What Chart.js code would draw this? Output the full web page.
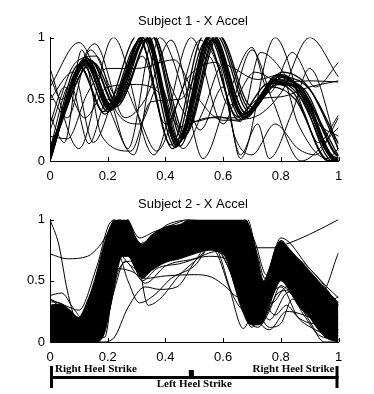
<!DOCTYPE html>
<html>
<head>
<meta charset="utf-8">
<script src="https://cdn.jsdelivr.net/npm/chart.js@4.4.1/dist/chart.umd.min.js"></script>
<style>
  html, body { margin: 0; padding: 0; background: #fff; }
  #wrap { position: relative; width: 374px; height: 394px; }
  canvas { position: absolute; left: 0; }
  #subject1 { top: 0; }
  #subject2 { top: 190px; }
</style>
</head>
<body>
<div id="wrap">
  <canvas id="subject1" width="374" height="190"></canvas>
  <canvas id="subject2" width="374" height="204"></canvas>
</div>
<script>
// normalised gait cycle (x) vs normalised X acceleration (y)

// Subject 1: the main bundle of strides
const subject1Bundle = [
  [[0,0.02],[0.12,0.8],[0.205,0.42],[0.325,1.03],[0.44,0.13],[0.555,1.04],[0.67,0.36],[0.785,0.66],[0.865,0.56],[0.985,0.01],[1,0]],
  [[0,0.05],[0.13,0.83],[0.215,0.44],[0.335,1.02],[0.45,0.16],[0.565,1.03],[0.68,0.38],[0.795,0.68],[0.875,0.55],[0.995,0.02],[1,0.02]],
  [[0,0],[0.115,0.78],[0.2,0.4],[0.32,1.0],[0.435,0.11],[0.55,1.0],[0.665,0.34],[0.775,0.64],[0.86,0.57],[0.98,0],[1,0]],
  [[0,0.08],[0.14,0.82],[0.225,0.45],[0.345,1.05],[0.46,0.18],[0.575,1.02],[0.69,0.4],[0.805,0.7],[0.885,0.52],[1,0.04]],
  [[0,0.03],[0.125,0.84],[0.21,0.46],[0.33,0.98],[0.445,0.15],[0.56,0.98],[0.675,0.36],[0.79,0.62],[0.87,0.58],[0.99,0.05],[1,0.04]],
  [[0,0.01],[0.105,0.76],[0.19,0.38],[0.31,0.97],[0.425,0.1],[0.54,0.97],[0.655,0.33],[0.765,0.6],[0.85,0.5],[0.97,0],[1,0]],
  [[0,0.06],[0.145,0.8],[0.23,0.44],[0.35,1.02],[0.465,0.2],[0.58,1.03],[0.695,0.42],[0.805,0.72],[0.895,0.6],[1,0.1]],
  [[0,0.04],[0.12,0.82],[0.205,0.41],[0.33,1.04],[0.44,0.14],[0.56,1.05],[0.67,0.35],[0.78,0.65],[0.86,0.54],[0.98,0.02],[1,0.01]],
  [[0,0.1],[0.13,0.79],[0.215,0.43],[0.335,0.99],[0.45,0.12],[0.565,0.99],[0.68,0.39],[0.79,0.69],[0.88,0.56],[0.99,0.03],[1,0.03]],
  [[0,0.02],[0.125,0.81],[0.2,0.44],[0.325,1.01],[0.44,0.17],[0.555,1.01],[0.665,0.37],[0.775,0.63],[0.87,0.6],[0.99,0.06],[1,0.05]],
  [[0,0.0],[0.118,0.8],[0.21,0.43],[0.328,1.02],[0.448,0.15],[0.552,1.02],[0.672,0.38],[0.782,0.66],[0.862,0.62],[0.98,0.03],[1,0.02]],
  [[0,0.05],[0.128,0.82],[0.212,0.41],[0.338,1.03],[0.438,0.12],[0.562,1.03],[0.678,0.35],[0.788,0.7],[0.868,0.57],[0.99,0],[1,0]],
  [[0,0.03],[0.1,0.78],[0.185,0.4],[0.305,1.02],[0.42,0.13],[0.535,1.02],[0.65,0.36],[0.76,0.63],[0.845,0.55],[0.965,0],[1,0]],
  [[0,0.12],[0.15,0.8],[0.235,0.47],[0.355,1.03],[0.47,0.22],[0.585,1.02],[0.7,0.44],[0.81,0.68],[0.9,0.58],[1,0.14]]
];

// Subject 1: odd strides that wander off the bundle
const subject1Strays = [
  [[0,0.75],[0.1,0.1],[0.22,1.0],[0.36,0.05],[0.49,1.0],[0.6,0.3],[0.7,0.9],[0.77,0.5],[0.87,0],[1,0.27]],
  [[0,0.6],[0.1,0.96],[0.2,0.45],[0.29,0.05],[0.38,1.0],[0.47,0.5],[0.53,0.02],[0.62,0.55],[0.7,0.92],[0.76,0.55],[0.84,0.88],[0.92,0.6],[1,0.8]],
  [[0,0.68],[0.04,0.5],[0.155,0.95],[0.26,0.35],[0.33,0.5],[0.42,0.98],[0.52,0.25],[0.6,0.6],[0.66,0.02],[0.78,1.0],[0.88,0.4],[0.93,0.15],[1,0.37]],
  [[0,0.2],[0.06,0.18],[0.13,0.55],[0.2,0.75],[0.3,0.75],[0.43,0.82],[0.5,0.55],[0.6,0.33],[0.7,0.35],[0.8,0.55],[0.9,1.0],[1,0.68]],
  [[0,0.37],[0.05,0.15],[0.11,0.9],[0.18,0.2],[0.28,0.08],[0.35,0.48],[0.45,0.5],[0.55,0.85],[0.62,0.45],[0.71,0.72],[0.8,0.64],[0.9,0.65],[1,0.64]],
  [[0,0.5],[0.08,0.72],[0.15,0.15],[0.25,0.62],[0.3,0.4],[0.37,0.08],[0.45,0.52],[0.52,0.98],[0.6,0.65],[0.66,0.05],[0.72,0.3],[0.76,0.02],[0.84,0.4],[0.9,0.75],[1,0.08]],
  [[0,0.1],[0.07,0.62],[0.135,0.14],[0.2,0.5],[0.27,0.1],[0.36,1.0],[0.42,0.6],[0.5,0.32],[0.58,0.36],[0.66,0.32],[0.73,0.88],[0.84,0.62],[0.93,0.3],[1,0.2]],
  [[0,0.25],[0.09,0.8],[0.16,0.85],[0.23,0.4],[0.31,0.3],[0.38,0.62],[0.46,0.1],[0.53,0.4],[0.6,0.78],[0.72,0.66],[0.8,0.7],[0.86,0.3],[0.96,0.02],[1,0.1]],
  [[0,0.3],[0.05,0.6],[0.12,0.35],[0.2,0.6],[0.3,0.62],[0.38,0.55],[0.45,0.28],[0.55,0.35],[0.65,0.35],[0.72,0.5],[0.8,0.52],[0.9,0.6],[1,0.65]],
  [[0,0.55],[0.06,0.35],[0.14,0.9],[0.24,0.5],[0.32,0.85],[0.4,0.3],[0.48,0.68],[0.58,0.8],[0.64,0.2],[0.7,0.05],[0.78,0.3],[0.86,0.1],[0.92,0.05],[1,0.35]]
];

// Subject 2: envelope of the dense band of strides
const bandX      = [0, 0.03, 0.07, 0.1, 0.13, 0.16, 0.19, 0.21, 0.23, 0.25, 0.27, 0.3, 0.32, 0.35, 0.4, 0.45, 0.5, 0.55, 0.6, 0.63, 0.66, 0.68, 0.7, 0.72, 0.74, 0.76, 0.78, 0.8, 0.83, 0.86, 0.9, 0.93, 0.96, 1];
const bandTop    = [0.3, 0.31, 0.26, 0.2, 0.33, 0.55, 0.82, 0.95, 1.02, 1.02, 1.0, 0.84, 0.8, 0.87, 0.94, 0.96, 1.02, 1.02, 1.02, 1.02, 1.02, 1.0, 0.88, 0.68, 0.5, 0.6, 0.75, 0.83, 0.76, 0.68, 0.58, 0.5, 0.42, 0.32];
const bandBottom = [0, 0, 0, 0, 0, 0, 0.08, 0.3, 0.55, 0.7, 0.7, 0.58, 0.52, 0.58, 0.65, 0.68, 0.72, 0.75, 0.72, 0.55, 0.32, 0.18, 0.14, 0.14, 0.17, 0.3, 0.42, 0.5, 0.42, 0.3, 0.2, 0.1, 0.03, 0];

// Subject 2: strides along the ragged band edges
const subject2Edges = [
  [[0,0.35],[0.05,0.3],[0.1,0.26],[0.16,0.6],[0.21,0.98],[0.26,1.02],[0.31,0.85],[0.36,0.9],[0.45,0.98],[0.5,1.02],[0.68,1.02],[0.72,0.7],[0.745,0.52],[0.8,0.85],[0.9,0.6],[0.96,0.45],[1,0.36]],
  [[0,0.22],[0.06,0.26],[0.1,0.15],[0.15,0.4],[0.2,0.85],[0.24,1.0],[0.29,0.88],[0.32,0.78],[0.4,0.95],[0.48,1.0],[0.66,1.02],[0.71,0.82],[0.75,0.55],[0.79,0.8],[0.85,0.7],[0.92,0.55],[1,0.3]],
  [[0,0],[0.15,0],[0.18,0.05],[0.22,0.4],[0.26,0.66],[0.3,0.55],[0.33,0.48],[0.4,0.62],[0.5,0.68],[0.58,0.74],[0.62,0.6],[0.67,0.25],[0.72,0.12],[0.76,0.25],[0.8,0.46],[0.85,0.35],[0.9,0.17],[0.95,0],[1,0]],
  [[0,0.05],[0.14,0.02],[0.2,0.2],[0.24,0.6],[0.28,0.66],[0.32,0.5],[0.37,0.6],[0.45,0.64],[0.55,0.7],[0.61,0.68],[0.65,0.4],[0.69,0.18],[0.74,0.2],[0.79,0.4],[0.82,0.42],[0.88,0.22],[0.93,0.06],[1,0.02]]
];

// Subject 2: odd strides
const subject2Strays = [
  [[0,1.0],[0.03,0.8],[0.06,0.42],[0.09,0.18],[0.12,0.15],[0.17,0.5],[0.22,0.95],[0.26,0.98],[0.31,0.75],[0.4,0.85],[0.5,0.92],[0.62,0.98],[0.7,0.7],[0.74,0.35],[0.8,0.7],[0.9,0.4],[1,0.2]],
  [[0,0.72],[0.06,0.68],[0.13,0.7],[0.17,0.78],[0.23,0.96],[0.27,0.92],[0.32,0.7],[0.4,0.8],[0.5,0.85],[0.6,0.9],[0.68,0.85],[0.73,0.4],[0.8,0.65],[0.9,0.35],[1,0.15]],
  [[0,0.38],[0.04,0.4],[0.08,0.28],[0.11,0.2],[0.16,0.45],[0.21,0.8],[0.25,0.9],[0.3,0.65],[0.36,0.7],[0.45,0.8],[0.55,0.88],[0.65,0.85],[0.7,0.5],[0.75,0.25],[0.8,0.6],[0.9,0.3],[1,0.1]],
  [[0,0.33],[0.05,0.3],[0.1,0.1],[0.15,0.03],[0.19,0.04],[0.235,0.72],[0.27,0.5],[0.31,0.32],[0.36,0.38],[0.42,0.52],[0.5,0.62],[0.56,0.78],[0.62,0.72],[0.66,0.35],[0.7,0.12],[0.74,0.3],[0.8,0.45],[0.86,0.2],[0.92,0.1],[1,0.02]],
  [[0,0.18],[0.1,0.05],[0.18,0],[0.22,0.03],[0.27,0.28],[0.33,0.45],[0.38,0.43],[0.44,0.45],[0.5,0.65],[0.56,0.82],[0.62,0.6],[0.68,0.22],[0.72,0.3],[0.76,0.18],[0.82,0.4],[0.86,0.42],[0.92,0.2],[1,0.08]],
  [[0,0.25],[0.1,0.12],[0.16,0.3],[0.23,0.6],[0.28,0.58],[0.33,0.52],[0.4,0.54],[0.5,0.55],[0.56,0.53],[0.61,0.45],[0.65,0.37],[0.72,0.36],[0.77,0.32],[0.82,0.45],[0.88,0.4],[0.94,0.3],[1,0.37]],
  [[0,0.35],[0.1,0.2],[0.16,0.5],[0.22,0.9],[0.3,0.8],[0.4,0.9],[0.5,0.95],[0.6,0.92],[0.66,0.8],[0.7,0.77],[0.78,0.77],[0.82,0.8],[0.9,0.88],[1,1.0]],
  [[0,0.28],[0.08,0.15],[0.15,0.45],[0.22,0.9],[0.3,0.75],[0.4,0.85],[0.5,0.9],[0.6,0.85],[0.67,0.6],[0.72,0.3],[0.78,0.55],[0.82,0.62],[0.88,0.45],[0.94,0.4],[1,0.73]],
  [[0,0.1],[0.08,0.05],[0.16,0.2],[0.22,0.75],[0.3,0.6],[0.4,0.7],[0.5,0.8],[0.57,0.75],[0.62,0.45],[0.67,0.11],[0.71,0.26],[0.76,0.12],[0.8,0.15],[0.84,0.35],[0.88,0.3],[0.94,0.18],[1,0.1]],
  [[0,0.2],[0.1,0.1],[0.17,0.35],[0.24,0.85],[0.3,0.7],[0.4,0.75],[0.5,0.85],[0.58,0.75],[0.63,0.4],[0.68,0.25],[0.73,0.35],[0.78,0.22],[0.82,0.3],[0.86,0.2],[0.92,0.15],[1,0.3]],
  [[0,0.15],[0.12,0.05],[0.2,0.5],[0.25,0.95],[0.3,0.75],[0.34,0.3],[0.38,0.35],[0.45,0.55],[0.52,0.7],[0.58,0.85],[0.64,0.75],[0.7,0.28],[0.76,0.1],[0.82,0.25],[0.9,0.2],[1,0.05]]
];

// gait events marked under the second plot
const gaitEventLabels = ['Right Heel Strike', 'Left Heel Strike', 'Right Heel Strike'];
const gaitEventX = [0, 0.49, 1];

const axisFont = { family: "'Liberation Sans', Arial, sans-serif", size: 13 };

// small MATLAB-style ticks pointing into the plot
const inwardTicks = {
  id: 'inwardTicks',
  afterDatasetsDraw(chart) {
    const { ctx, chartArea: a, scales: { x, y } } = chart;
    ctx.save();
    ctx.strokeStyle = '#000';
    ctx.lineWidth = 1;
    ctx.beginPath();
    x.ticks.forEach(t => {
      const px = Math.round(x.getPixelForValue(t.value)) + 0.5;
      ctx.moveTo(px, a.bottom);
      ctx.lineTo(px, a.bottom - 4);
    });
    y.ticks.forEach(t => {
      const py = Math.round(y.getPixelForValue(t.value)) + 0.5;
      ctx.moveTo(a.left, py);
      ctx.lineTo(a.left + 4, py);
    });
    ctx.stroke();
    ctx.restore();
  }
};

// the heel strike bar under the lower plot
const gaitBar = {
  id: 'gaitBar',
  afterDraw(chart) {
    const { ctx, scales: { x } } = chart;
    const x0 = x.getPixelForValue(gaitEventX[0]);
    const xm = x.getPixelForValue(gaitEventX[1]);
    const x1 = x.getPixelForValue(gaitEventX[2]);
    ctx.save();
    ctx.fillStyle = '#000';
    ctx.fillRect(x0, 186, x1 - x0, 3);
    ctx.fillRect(x0, 176, 3, 22);
    ctx.fillRect(x1 - 3, 176, 3, 22);
    ctx.fillRect(xm - 2.5, 180, 5, 6);
    ctx.font = "bold 11px 'Liberation Serif', 'DejaVu Serif', serif";
    ctx.textBaseline = 'middle';
    ctx.textAlign = 'left';
    ctx.fillText(gaitEventLabels[0], x0 + 5, 179);
    ctx.textAlign = 'right';
    ctx.fillText(gaitEventLabels[2], x1 - 4, 179);
    ctx.textAlign = 'center';
    ctx.fillText(gaitEventLabels[1], (x0 + x1) / 2, 194);
    ctx.restore();
  }
};

function traceSet(traces, width) {
  return traces.map(t => ({ data: t, borderColor: '#000', borderWidth: width || 1, fill: false }));
}

function plotOptions(title, titlePad, bottomPad) {
  const scale = (step, isX) => ({
    type: 'linear',
    min: 0,
    max: 1,
    ticks: {
      stepSize: step, color: '#000', font: axisFont, padding: isX ? 8 : 5, maxRotation: 0,
      callback: v => String(Number(v.toFixed(2)))
    },
    grid: { display: false, drawTicks: false },
    border: { display: true, color: '#000', width: 1 },
    afterFit: s => { if (isX) s.height = 22; else s.width = 38; }
  });
  return {
    responsive: false,
    animation: false,
    events: [],
    // left padding + empty right axis keep the title centred like the original
    layout: { padding: { left: 12, right: 0, top: 0, bottom: bottomPad } },
    elements: {
      point: { radius: 0 },
      line: { cubicInterpolationMode: 'monotone' }
    },
    plugins: {
      legend: { display: false },
      tooltip: { enabled: false },
      title: {
        display: true,
        text: title,
        color: '#000',
        font: { family: axisFont.family, size: 13, weight: 'normal' },
        padding: titlePad
      }
    },
    scales: {
      x: scale(0.2, true),
      y: scale(0.5, false),
      spare: {
        type: 'linear', position: 'right', min: 0, max: 1,
        ticks: { display: false }, grid: { display: false }, border: { display: false },
        afterFit: s => { s.width = 35.5; }
      }
    }
  };
}

new Chart(document.getElementById('subject1'), {
  type: 'line',
  data: { datasets: traceSet(subject1Strays).concat(traceSet(subject1Bundle, 1.3)) },
  options: plotOptions('Subject 1 - X Accel', { top: 14, bottom: 8 }, 7),
  plugins: [inwardTicks]
});

new Chart(document.getElementById('subject2'), {
  type: 'line',
  data: {
    datasets: [
      { data: bandX.map((x, i) => [x, bandTop[i]]), borderColor: '#000', borderWidth: 1, backgroundColor: '#000', fill: '+1' },
      { data: bandX.map((x, i) => [x, bandBottom[i]]), borderColor: '#000', borderWidth: 1, fill: false }
    ].concat(traceSet(subject2Edges), traceSet(subject2Strays))
  },
  options: plotOptions('Subject 2 - X Accel', { top: 7, bottom: 7 }, 30),
  plugins: [inwardTicks, gaitBar]
});
</script>
</body>
</html>
